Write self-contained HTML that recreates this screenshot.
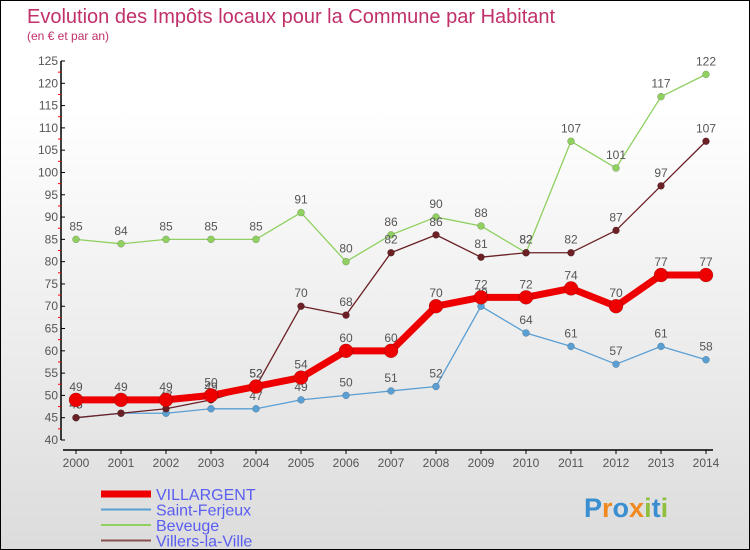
<!DOCTYPE html>
<html><head><meta charset="utf-8"><style>
html,body{margin:0;padding:0}
body{width:750px;height:550px;overflow:hidden;font-family:"Liberation Sans",sans-serif}
#wrap{position:absolute;left:0;top:0;width:748px;height:548px;border:1px solid #000;background:linear-gradient(#fff,#ffffff 20%,#dcdcdc)}
</style></head><body>
<div id="wrap">
<svg id="chart" width="748" height="548" style="position:absolute;left:0;top:0"></svg>
</div>
<script>
const years=[2000,2001,2002,2003,2004,2005,2006,2007,2008,2009,2010,2011,2012,2013,2014];
const villargent=[49,49,49,50,52,54,60,60,70,72,72,74,70,77,77];
const saintFerjeux=[45,46,46,47,47,49,50,51,52,70,64,61,57,61,58];
const beveuge=[85,84,85,85,85,91,80,86,90,88,82,107,101,117,122];
const villers=[45,46,47,49,52,70,68,82,86,81,82,82,87,97,107];
const yTicks=[40,45,50,55,60,65,70,75,80,85,90,95,100,105,110,115,120,125];
const NS="http://www.w3.org/2000/svg";
const svg=document.getElementById('chart');
function X(i){return 75+i*45;}
function Y(v){return 439-(v-40)*(379/85);}
function el(t,a,p){const e=document.createElementNS(NS,t);for(const k in a)e.setAttribute(k,a[k]);(p||svg).appendChild(e);return e;}
function txt(x,y,s,a,p){const e=el('text',Object.assign({x:x,y:y,'font-family':'Liberation Sans, sans-serif'},a),p);e.textContent=s;return e;}
let t=txt(26,22,'Evolution des Impôts locaux pour la Commune par Habitant',{'font-size':20,fill:'#c0306a'});


t=txt(26,39,'(en € et par an)',{'font-size':12,fill:'#c0306a'});


let ax=el('line',{x1:60,y1:Y(125),x2:60,y2:Y(40),stroke:'#000','stroke-width':1.5});


yTicks.forEach(v=>{
 el('line',{x1:60,x2:64,y1:Y(v),y2:Y(v),stroke:'#000'});
 el('line',{x1:57,x2:60,y1:Y(v+2.5),y2:Y(v+2.5),stroke:v<125?'red':'none'});
 const l=txt(57,Y(v)+4,String(v),{'font-size':12,fill:'#555','text-anchor':'end'});
 
 
});
ax=el('line',{x1:62,y1:449,x2:712,y2:449,stroke:'#000','stroke-width':1.5});


years.forEach((y,i)=>{
 el('line',{x1:X(i),x2:X(i),y1:449,y2:453,stroke:'#000'});
 const l=txt(X(i),466,String(y),{'font-size':12,fill:'#555','text-anchor':'middle'});
 
 
});
function series(data,color,w,r,name){
 const g=el('g',{});
 
 
 el('polyline',{points:data.map((v,i)=>X(i)+','+Y(v)).join(' '),fill:'none',stroke:color,'stroke-width':w,'stroke-linejoin':'round'},g);
 data.forEach((v,i)=>{
  const c=el('circle',{cx:X(i),cy:Y(v),r:r,fill:color,stroke:'rgba(0,0,0,0.3)','stroke-width':0.5},g);
  
  
  const l=txt(X(i),Y(v)-9,String(v),{'font-size':12,fill:'#555','text-anchor':'middle'},g);
  
  
 });
}
series(beveuge,'#8fd060',1.3,3.5,'beveuge');
series(saintFerjeux,'#5a9fd4',1.3,3.5,'saint-ferjeux');
series(villers,'#6b2025',1.3,3.5,'villers-la-ville');
series(villargent,'#ee0000',7,7,'villargent');
const legend=[['VILLARGENT','#ee0000',7],['Saint-Ferjeux','#5a9fd4',2],['Beveuge','#8fd060',2],['Villers-la-Ville','#8a5050',2]];
legend.forEach((d,i)=>{
 const g=el('g',{});
 
 
 const y=493+i*15.5;
 el('line',{x1:100,x2:150,y1:y,y2:y,stroke:d[1],'stroke-width':d[2]},g);
 txt(155,y+6,d[0],{'font-size':16,fill:'#5a5ef0'},g);
});
const logo=el('text',{x:583,y:516,'font-family':'Liberation Sans, sans-serif','font-size':27,'font-weight':'bold'});


[['P','#3a8fd0'],['r','#f08a20'],['o','#3a8fd0'],['x','#f08a20'],['i','#8fc040'],['t','#3a8fd0'],['i','#8fc040']].forEach(c=>{
 const s=el('tspan',{fill:c[1]},logo);s.textContent=c[0];
});
</script>
</body></html>
